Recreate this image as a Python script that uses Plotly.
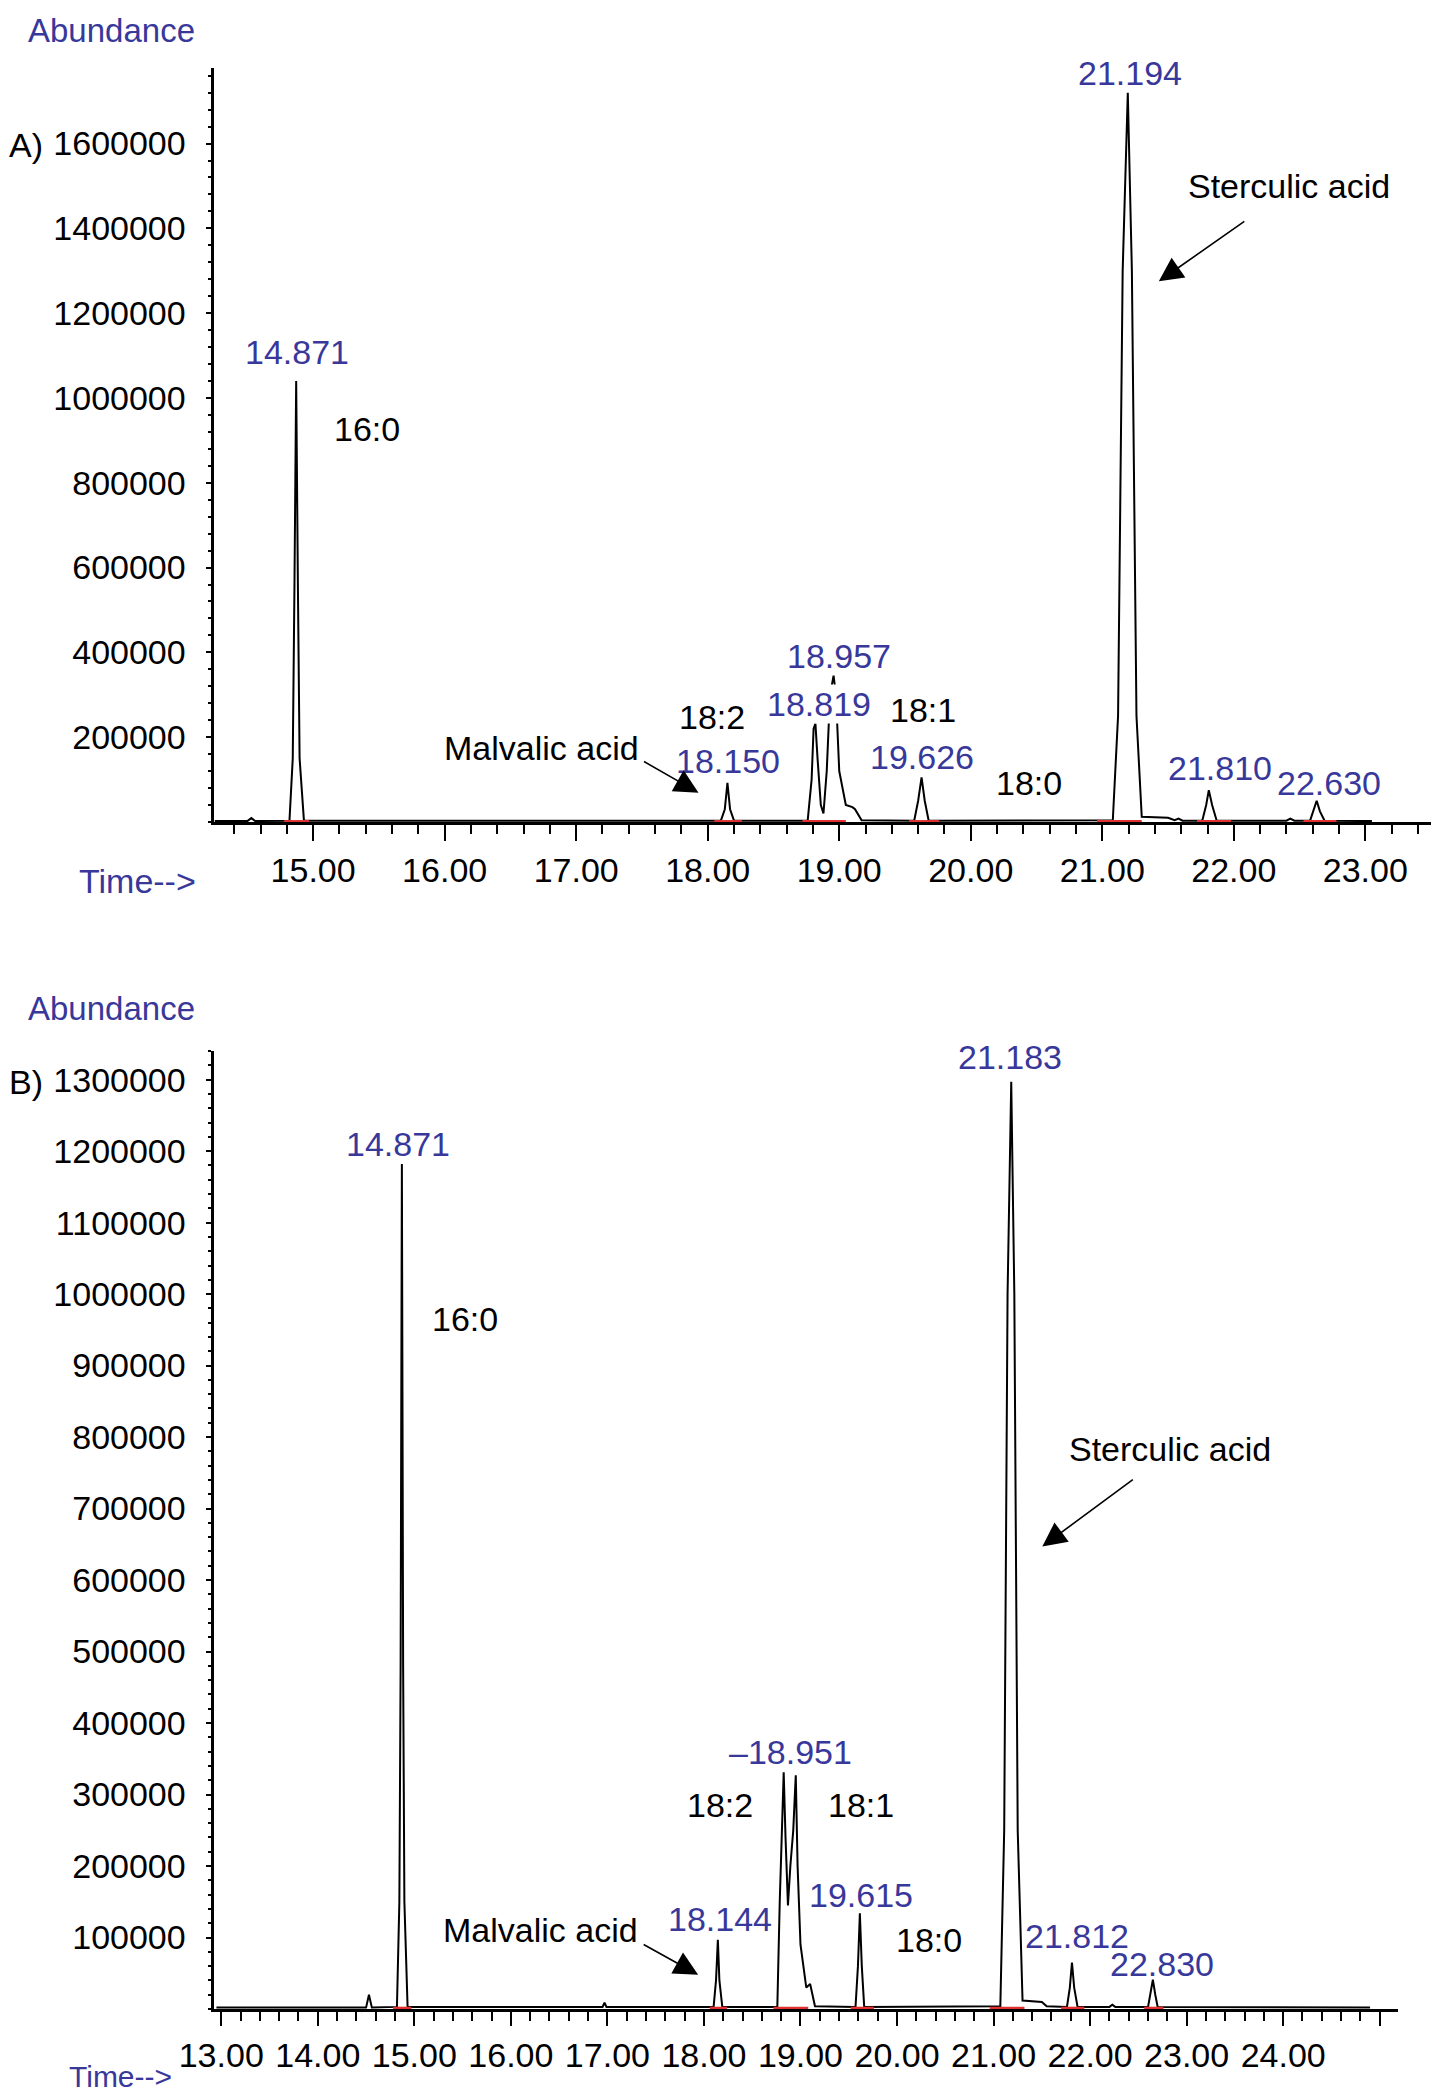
import plotly.graph_objects as go

# --- chart values ---
# Panel A chromatogram (time in min, abundance)
TIME_A = [14.25, 14.50, 14.53, 14.56, 14.82, 14.845, 14.858, 14.871, 14.884, 14.897, 14.93,
          18.10, 18.13, 18.15, 18.17, 18.20,
          18.76, 18.79, 18.805, 18.819, 18.835, 18.86, 18.88, 18.905, 18.93, 18.957, 18.975,
          19.00, 19.05, 19.10, 19.12, 19.17,
          19.57, 19.60, 19.626, 19.65, 19.68,
          21.08, 21.12, 21.155, 21.194, 21.225, 21.26, 21.30, 21.50, 21.55, 21.58, 21.61,
          21.76, 21.79, 21.81, 21.835, 21.87,
          22.40, 22.43, 22.46,
          22.58, 22.605, 22.63, 22.655, 22.69, 23.05]
ABUND_A = [2000, 2000, 9000, 2000, 3000, 150000, 560000, 1040000, 560000, 150000, 3000,
           3000, 30000, 92000, 30000, 3000,
           3000, 100000, 220000, 232000, 150000, 40000, 20000, 120000, 300000, 345000, 300000,
           120000, 40000, 35000, 30000, 4000,
           3000, 50000, 105000, 50000, 3000,
           4000, 250000, 1300000, 1720000, 1300000, 250000, 12000, 10000, 4000, 8000, 3000,
           3000, 40000, 75000, 40000, 3000,
           3000, 8000, 3000,
           3000, 25000, 50000, 25000, 3000, 2000]

# Panel B chromatogram
TIME_B = [12.95, 14.50, 14.53, 14.56, 14.82, 14.845, 14.858, 14.871, 14.884, 14.897, 14.93,
          16.95, 16.97, 16.99,
          18.10, 18.125, 18.144, 18.16, 18.19,
          18.76, 18.785, 18.805, 18.826, 18.845, 18.87, 18.895, 18.925, 18.951, 18.97,
          19.00, 19.06, 19.10, 19.15,
          19.57, 19.595, 19.615, 19.635, 19.66,
          21.07, 21.11, 21.145, 21.183, 21.215, 21.25, 21.30, 21.50, 21.55,
          21.76, 21.79, 21.812, 21.835, 21.87,
          22.20, 22.23, 22.26,
          22.60, 22.625, 22.65, 22.675, 22.70, 24.90]
ABUND_B = [2000, 2000, 20000, 2000, 3000, 150000, 480000, 1182000, 480000, 150000, 3000,
           3000, 9000, 3000,
           3000, 40000, 97000, 40000, 3000,
           3000, 150000, 240000, 331000, 240000, 145000, 200000, 250000, 327000, 200000,
           90000, 30000, 35000, 4000,
           3000, 60000, 134000, 60000, 3000,
           4000, 250000, 1000000, 1297000, 1000000, 250000, 12000, 10000, 4000,
           3000, 30000, 65000, 30000, 3000,
           3000, 6000, 3000,
           3000, 20000, 41000, 20000, 3000, 2000]

# integration start / end marks (red) on the baseline
INTEG_A = [(14.78, 14.97), (18.05, 18.26), (18.72, 19.05), (19.53, 19.76),
           (20.96, 21.30), (21.72, 21.98), (22.53, 22.78)]
INTEG_B = [(14.78, 14.97), (18.06, 18.24), (18.72, 19.08), (19.52, 19.76),
           (20.96, 21.32), (21.70, 21.94), (22.56, 22.76)]

Y_TICKS_A = [200000, 400000, 600000, 800000, 1000000, 1200000, 1400000, 1600000]
Y_TICKS_B = [100000, 200000, 300000, 400000, 500000, 600000, 700000,
             800000, 900000, 1000000, 1100000, 1200000, 1300000]
X_TICKS_A = [15, 16, 17, 18, 19, 20, 21, 22, 23]
X_TICKS_B = [13, 14, 15, 16, 17, 18, 19, 20, 21, 22, 23, 24, 25]
X_TEXT_B = ["13.00", "14.00", "15.00", "16.00", "17.00", "18.00", "19.00",
            "20.00", "21.00", "22.00", "23.00", "24.00", ""]

# peak labels: (text, time, abundance, colour kind)
LABELS_A = [("14.871", 14.878, 1109000, "rt"), ("18.150", 18.157, 144000, "rt"),
            ("18.819", 18.848, 278000, "rt"), ("18.957", 19.0, 391000, "rt"),
            ("19.626", 19.63, 153000, "rt"), ("21.194", 21.213, 1766000, "rt"),
            ("21.810", 21.893, 128000, "rt"), ("22.630", 22.726, 91000, "rt"),
            ("16:0", 15.406, 927000, "fa"), ("18:2", 18.036, 247000, "fa"),
            ("18:1", 19.64, 263000, "fa"), ("18:0", 20.44, 91000, "fa"),
            ("Malvalic acid", 16.736, 175000, "fa"), ("Sterculic acid", 22.42, 1500000, "fa")]
LABELS_B = [("14.871", 14.834, 1210000, "rt"), ("18.144", 18.163, 126000, "rt"),
            ("\u201318.951", 18.895, 359000, "rt"), ("19.615", 19.627, 160000, "rt"),
            ("21.183", 21.174, 1331000, "rt"), ("21.812", 21.865, 102000, "rt"),
            ("22.830", 22.749, 63000, "rt"),
            ("16:0", 15.525, 965000, "fa"), ("18:2", 18.163, 286000, "fa"),
            ("18:1", 19.627, 286000, "fa"), ("18:0", 20.331, 97000, "fa"),
            ("Malvalic acid", 16.312, 110000, "fa"), ("Sterculic acid", 22.83, 784000, "fa")]

# labels printed over the trace (the peak line is hidden behind them)
MASKED = {"18.819"}

BLUE = "#38389a"
FONT = "Liberation Sans, Arial, sans-serif"
W, H = 1439, 2094
FS = 34


def main():
    fig = go.Figure()

    # chromatogram traces
    fig.add_trace(go.Scatter(x=TIME_A, y=ABUND_A, mode="lines",
                             line=dict(color="black", width=2), xaxis="x", yaxis="y",
                             showlegend=False, cliponaxis=False))
    fig.add_trace(go.Scatter(x=TIME_B, y=ABUND_B, mode="lines",
                             line=dict(color="black", width=2), xaxis="x2", yaxis="y2",
                             showlegend=False, cliponaxis=False))

    # red integration marks
    for (a, b) in INTEG_A:
        fig.add_trace(go.Scatter(x=[a, b], y=[1500, 1500], mode="lines",
                                 line=dict(color="#e03030", width=2.5),
                                 xaxis="x", yaxis="y", showlegend=False))
    for (a, b) in INTEG_B:
        fig.add_trace(go.Scatter(x=[a, b], y=[1500, 1500], mode="lines",
                                 line=dict(color="#e03030", width=2.5),
                                 xaxis="x2", yaxis="y2", showlegend=False))

    ann = []
    for xr, yr, labels in (("x", "y", LABELS_A), ("x2", "y2", LABELS_B)):
        for txt, t, v, kind in labels:
            a = dict(x=t, y=v, xref=xr, yref=yr, text=txt, showarrow=False,
                     xanchor="center", yanchor="middle",
                     font=dict(size=FS, color=BLUE if kind == "rt" else "black",
                               family=FONT))
            if txt in MASKED:
                a.update(bgcolor="white", borderpad=0)
            ann.append(a)

    # arrows
    arrow = dict(text="", showarrow=True, arrowhead=2, arrowsize=3, arrowwidth=1.6,
                 arrowcolor="black")
    ann.append(dict(arrow, x=17.93, y=69000, xref="x", yref="y", ax=-56, ay=-32))
    ann.append(dict(arrow, x=21.43, y=1275000, xref="x", yref="y", ax=87, ay=-61))
    ann.append(dict(arrow, x=17.94, y=48000, xref="x2", yref="y2", ax=-56, ay=-31))
    ann.append(dict(arrow, x=21.505, y=647000, xref="x2", yref="y2", ax=92, ay=-68))

    # panel texts in paper coords
    def paper(px, py, text, color, size=FS):
        return dict(x=px / W, y=1 - py / H, xref="paper", yref="paper", text=text,
                    xanchor="center", yanchor="middle", showarrow=False,
                    font=dict(size=size, color=color, family=FONT))

    ann.append(paper(103, 22, "Abundance", BLUE, 33))
    ann.append(paper(18, 137, "A)", "black"))
    ann.append(paper(129, 873, "Time-->", BLUE, 34))
    ann.append(paper(103, 1000, "Abundance", BLUE, 33))
    ann.append(paper(18, 1074, "B)", "black"))
    ann.append(paper(112, 2068, "Time-->", BLUE, 30))

    xcommon = dict(showline=True, linecolor="black", linewidth=3, showgrid=False,
                   zeroline=False, ticks="outside", ticklen=16, tickwidth=2,
                   tickcolor="black",
                   tickfont=dict(size=FS, color="black", family=FONT),
                   minor=dict(ticks="outside", ticklen=9, tickwidth=1.5,
                              tickcolor="black", dtick=0.2, tick0=13),
                   automargin=False, layer="below traces")
    ycommon = dict(showline=True, linecolor="black", linewidth=3, showgrid=False,
                   zeroline=False, ticks="outside", ticklen=5, tickwidth=2,
                   tickcolor="black", tickformat="d", ticklabelstandoff=14,
                   tickfont=dict(size=FS, color="black", family=FONT),
                   automargin=False)

    fig.update_layout(
        width=W, height=H,
        margin=dict(l=0, r=0, t=0, b=0),
        paper_bgcolor="white", plot_bgcolor="white",
        font=dict(family=FONT),
        xaxis=dict(xcommon, domain=[0.1435, 0.999], range=[14.25, 23.61], anchor="y",
                   tickvals=X_TICKS_A, tickformat=".2f"),
        yaxis=dict(ycommon, domain=[0.6113, 0.9713], range=[0, 1778000], anchor="x",
                   tickvals=Y_TICKS_A,
                   minor=dict(ticks="outside", ticklen=3, tickcolor="black", dtick=40000)),
        xaxis2=dict(xcommon, domain=[0.1435, 0.966], range=[12.93, 25.19], anchor="y2",
                    tickvals=X_TICKS_B, ticktext=X_TEXT_B, ticklen=14,
                    tickfont=dict(size=34, color="black", family=FONT)),
        yaxis2=dict(ycommon, domain=[0.0444, 0.5019], range=[0, 1340000], anchor="x2",
                    tickvals=Y_TICKS_B,
                    minor=dict(ticks="outside", ticklen=3, tickcolor="black", dtick=20000)),
        annotations=ann,
    )

    fig.write_html("out.html")


if __name__ == "__main__":
    main()
